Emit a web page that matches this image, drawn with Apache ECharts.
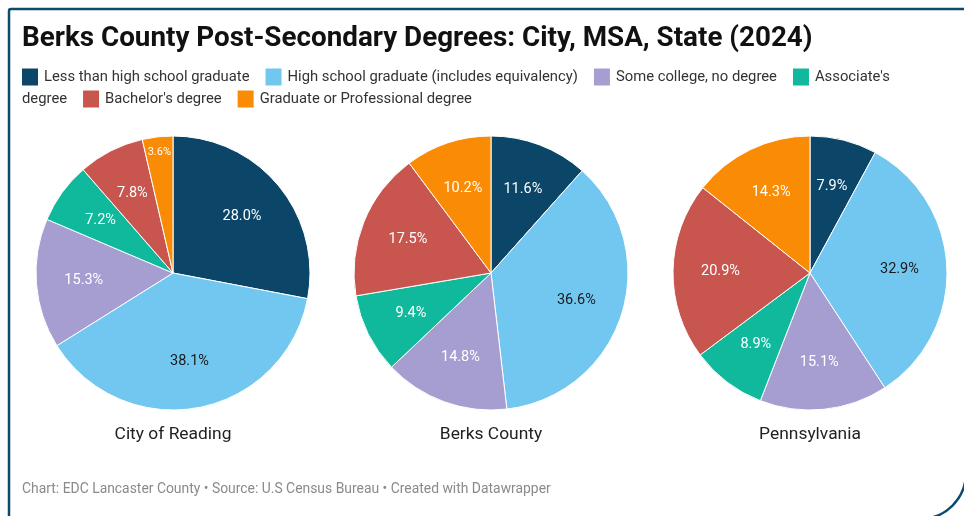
<!DOCTYPE html>
<html>
<head>
<meta charset="utf-8">
<script src="https://cdn.jsdelivr.net/npm/echarts@6/dist/echarts.min.js"></script>
<style>
  html, body { margin: 0; padding: 0; background: #fff; }
  #chart { width: 964px; height: 516px; }
</style>
</head>
<body>
<div id="chart"></div>
<script>
// data
var categories = [
  'Less than high school graduate',
  'High school graduate (includes equivalency)',
  'Some college, no degree',
  "Associate's degree",
  "Bachelor's degree",
  'Graduate or Professional degree'
]
var places = ['City of Reading', 'Berks County', 'Pennsylvania']
var readingValues = [28.0, 38.1, 15.3, 7.2, 7.8, 3.6]
var berksValues = [11.6, 36.6, 14.8, 9.4, 17.5, 10.2]
var paValues = [7.9, 32.9, 15.1, 8.9, 20.9, 14.3]

var colors = ['#0b4668', '#72c7f0', '#a69ed1', '#10b99b', '#c9554f', '#fa8b05']
var labelColors = ['#fff', '#1a1a1a', '#fff', '#fff', '#fff', '#fff']

var allValues = [readingValues, berksValues, paValues]
var centersX = [173, 491, 810]
var centerY = 273
var R = 137

// 饼图
var series = []
allValues.forEach(function (vals, k) {
  var base = vals.map(function (v, i) {
    return { name: categories[i], value: v }
  })
  series.push({
    type: 'pie',
    center: [centersX[k], centerY],
    radius: [0, R],
    startAngle: 90,
    silent: true,
    label: { show: false },
    labelLine: { show: false },
    itemStyle: { borderColor: '#fff', borderWidth: 1 },
    data: base.map(function (d, i) {
      return { name: d.name, value: d.value, itemStyle: { color: colors[i] } }
    })
  })
  // 标签（普通）
  series.push({
    type: 'pie',
    center: [centersX[k], centerY],
    radius: [36, R],
    startAngle: 90,
    silent: true,
    avoidLabelOverlap: false,
    itemStyle: { color: 'transparent', borderWidth: 0 },
    labelLine: { show: false },
    data: base.map(function (d, i) {
      return {
        name: d.name,
        value: d.value,
        label: {
          show: d.value >= 5,
          position: 'inside',
          color: labelColors[i],
          fontFamily: 'Roboto',
          fontSize: 14.5,
          formatter: function (p) { return p.value.toFixed(1) + '%' }
        }
      }
    })
  })
  // 标签（小扇区）
  series.push({
    type: 'pie',
    center: [centersX[k], centerY],
    radius: [100, R],
    startAngle: 90,
    silent: true,
    avoidLabelOverlap: false,
    itemStyle: { color: 'transparent', borderWidth: 0 },
    labelLine: { show: false },
    data: base.map(function (d, i) {
      return {
        name: d.name,
        value: d.value,
        label: {
          show: d.value < 5,
          position: 'inside',
          color: labelColors[i],
          fontFamily: 'Roboto',
          fontSize: 11,
          formatter: function (p) { return p.value.toFixed(1) + '%' }
        }
      }
    })
  })
})

// 图例（自动换行）
var graphics = []
var legendFont = '14.8px Roboto'
var ctx = document.createElement('canvas').getContext('2d')
ctx.font = legendFont
var spaceW = ctx.measureText(' ').width
var lx = 22
var ly = 77
var maxX = 930
categories.forEach(function (name, i) {
  if (i > 0) lx += 16
  if (lx + 16 > maxX) { lx = 22; ly += 22 }
  graphics.push({
    type: 'rect',
    shape: { x: lx, y: ly - 8.5, width: 16, height: 17 },
    style: { fill: colors[i] }
  })
  lx += 22
  name.split(' ').forEach(function (word, j) {
    var w = ctx.measureText(word).width
    if (j > 0) lx += spaceW
    if (lx + w > maxX) { lx = 22; ly += 22 }
    graphics.push({
      type: 'text',
      style: { text: word, x: lx, y: ly, font: legendFont, fill: '#333', verticalAlign: 'middle' }
    })
    lx += w
  })
})

// 标题、副标题、边框
graphics.push({
  type: 'text',
  style: {
    text: 'Berks County Post-Secondary Degrees: City, MSA, State (2024)',
    x: 22, y: 39, font: 'bold 27.8px Roboto', fill: '#111', verticalAlign: 'middle'
  }
})
places.forEach(function (p, k) {
  graphics.push({
    type: 'text',
    style: { text: p, x: centersX[k], y: 435, font: '17.4px Roboto', fill: '#222', align: 'center', verticalAlign: 'middle' }
  })
})
graphics.push({
  type: 'text',
  style: {
    text: 'Chart: EDC Lancaster County \u2022 Source: U.S Census Bureau \u2022 Created with Datawrapper',
    x: 22, y: 490, font: '13.9px Roboto', fill: '#8a8a8a', verticalAlign: 'middle'
  }
})
graphics.push({
  type: 'rect',
  shape: { x: 9, y: 9, width: 957, height: 510, r: [2, 0, 46, 0] },
  style: { fill: 'none', stroke: '#0c4b70', lineWidth: 2.5 }
})

var option = {
  backgroundColor: '#fff',
  animation: false,
  series: series,
  graphic: graphics
}

var chart = echarts.init(document.getElementById('chart'))
chart.setOption(option, true)
</script>
</body>
</html>
